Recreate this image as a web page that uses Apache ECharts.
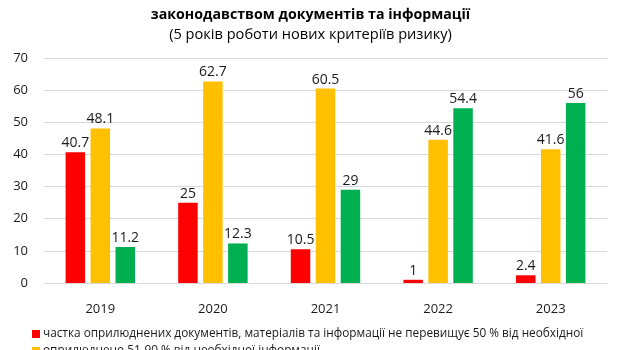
<!DOCTYPE html>
<html><head><meta charset="utf-8">
<script src="https://cdn.jsdelivr.net/npm/echarts@6/dist/echarts.min.js"></script>
<style>html,body{margin:0;padding:0;background:#fff}#c{width:621px;height:350px}</style>
</head><body><div id="c"></div>
<script>
var categories = ['2019','2020','2021','2022','2023'];
var seriesNames = [
  'частка оприлюднених документів, матеріалів та інформації не перевищує 50 % від необхідної',
  'оприлюднено 51-90 % від необхідної інформації',
  'оприлюднено понад 90 % від необхідної інформації'
];
var redValues = [40.7, 25, 10.5, 1, 2.4];
var yellowValues = [48.1, 62.7, 60.5, 44.6, 41.6];
var greenValues = [11.2, 12.3, 29, 54.4, 56];
var colors = ['#FF0000', '#FFC000', '#00B050'];
var titleLine = 'законодавством документів та інформації';
var subtitleLine = '(5 років роботи нових критеріїв ризику)';

var font = 'Open Sans';
var chart = echarts.init(document.getElementById('c'));
function mk(i, data){
  return {
    name: seriesNames[i], type: 'bar', data: data, barWidth: 19.5, barGap: '28%',
    itemStyle: {color: colors[i]},
    label: {show: true, position: 'top', color: '#1a1a1a', fontSize: 14, fontFamily: font, distance: 2}
  };
}
function lg(i, top){
  return {
    orient: 'horizontal', left: 27, top: top, itemWidth: 8, itemHeight: 8,
    icon: 'rect', textStyle: {fontSize: 11.8, color: '#1a1a1a', fontFamily: font, padding: [0,0,0,-2]},
    data: [seriesNames[i]]
  };
}
chart.setOption({
  animation: false,
  textStyle: {fontFamily: font},
  title: [
    {text: titleLine, left: 'center', top: 3, textStyle: {fontSize: 14.2, fontWeight: 'bold', color: '#000', fontFamily: font}},
    {text: subtitleLine, left: 'center', top: 22, textStyle: {fontSize: 14.6, fontWeight: 'normal', color: '#000', fontFamily: font}}
  ],
  legend: [lg(0, 323), lg(1, 340), lg(2, 357)],
  grid: {left: 44, right: 14, top: 58, bottom: 67},
  xAxis: {
    type: 'category', data: categories,
    axisLine: {lineStyle: {color: '#d9d9d9'}}, axisTick: {show: false},
    axisLabel: {color: '#1a1a1a', fontSize: 13, margin: 20, fontFamily: font}
  },
  yAxis: {
    type: 'value', min: 0, max: 70, interval: 10,
    axisLine: {show: false}, axisTick: {show: false},
    splitLine: {lineStyle: {color: '#d9d9d9'}},
    axisLabel: {color: '#1a1a1a', fontSize: 13, margin: 16, fontFamily: font}
  },
  series: [mk(0, redValues), mk(1, yellowValues), mk(2, greenValues)]
});
</script></body></html>
